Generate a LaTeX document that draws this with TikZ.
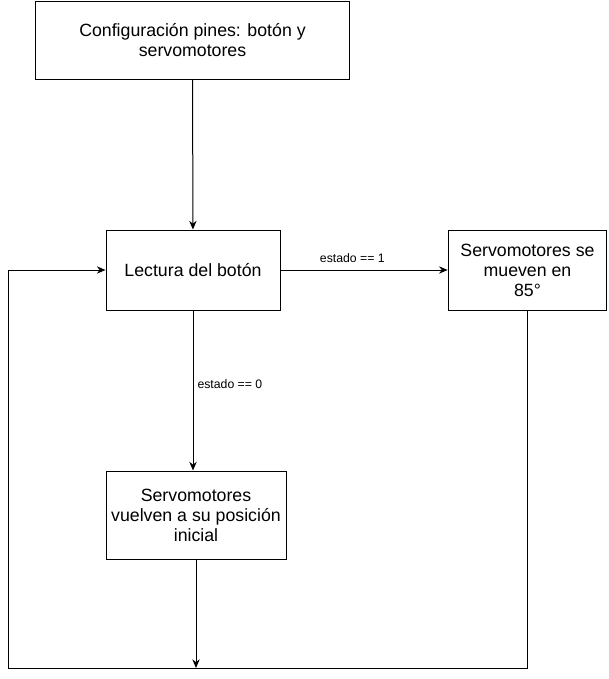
\documentclass[tikz,border=0pt]{standalone}
\usepackage{fontspec}
\setmainfont{Liberation Sans}
\usetikzlibrary{arrows.meta}
\tikzset{
  caja/.style={draw, line width=0.75pt, align=center, font=\fontsize{13.3}{15}\selectfont, inner sep=2pt},
  flecha/.style={line width=0.75pt, -{Stealth[length=6.5pt,width=5.5pt]}},
  etiqueta/.style={font=\fontsize{9.2}{11}\selectfont, fill=white, inner sep=1pt}
}
\begin{document}
\begin{tikzpicture}[x=0.75pt, y=-0.75pt]
\useasboundingbox (0,0) rectangle (609,679);

\node[caja, minimum width=236pt, minimum height=58.5pt] (config) at (192.5,40) {Configuración pines: botón y\\servomotores};
\node[caja, minimum width=130.5pt, minimum height=60pt] (lectura) at (193,270) {Lectura del botón};
\node[caja, minimum width=119pt, minimum height=60pt] (mueven) at (527.5,270) {Servomotores se\\mueven en\\85°};
\node[caja, minimum width=135pt, minimum height=66pt] (inicial) at (196,515) {Servomotores\\vuelven a su posición\\inicial};

\coordinate (abajoDer) at (527.5,668);
\coordinate (abajoIzq) at (8,668);

\draw[flecha] (config) -- (lectura);
\draw[flecha] (lectura) -- node[etiqueta, pos=0.43, above=4pt] {estado == 1} (mueven);
\draw[flecha] (lectura.south) -- node[etiqueta, pos=0.46, right=2pt] {estado == 0} (lectura.south |- inicial.north);
\draw[flecha] (inicial.south) -- (inicial.south |- abajoDer);
\draw[flecha] (mueven.south) -- (abajoDer) -- (abajoIzq) -- (abajoIzq |- lectura.west) -- (lectura.west);
\end{tikzpicture}
\end{document}
